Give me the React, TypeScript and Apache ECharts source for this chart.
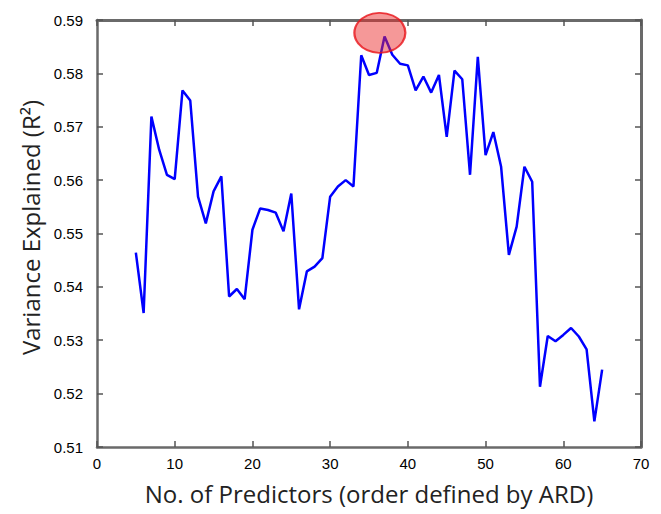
import React, { useEffect, useRef } from "react";
import * as echarts from "echarts";

const predictors = [
  5, 6, 7, 8, 9, 10, 11, 12, 13, 14, 15, 16, 17, 18, 19, 20, 21, 22, 23, 24, 25,
  26, 27, 28, 29, 30, 31, 32, 33, 34, 35, 36, 37, 38, 39, 40, 41, 42, 43, 44, 45,
  46, 47, 48, 49, 50, 51, 52, 53, 54, 55, 56, 57, 58, 59, 60, 61, 62, 63, 64, 65,
];
const variance = [
  0.5464, 0.5351, 0.5719, 0.5657, 0.561, 0.5602, 0.5768, 0.5749, 0.5569, 0.5519,
  0.5579, 0.5607, 0.5382, 0.5396, 0.5377, 0.5507, 0.5547, 0.5544, 0.5539, 0.5504,
  0.5575, 0.5358, 0.5429, 0.5438, 0.5454, 0.5569, 0.5588, 0.56, 0.5588, 0.5834,
  0.5797, 0.5801, 0.5869, 0.5835, 0.5818, 0.5815, 0.5768, 0.5794, 0.5764, 0.5797,
  0.5681, 0.5805, 0.5789, 0.561, 0.5831, 0.5647, 0.569, 0.5625, 0.546, 0.5513,
  0.5625, 0.5597, 0.5213, 0.5308, 0.5298, 0.531, 0.5323, 0.5307, 0.5283, 0.5148,
  0.5245,
];
const highlight = [36.4, 0.5876];

const xTitle = "No. of Predictors (order defined by ARD)";
const yTitle = "Variance Explained (R\u00B2)";

export default function App() {
  const ref = useRef<HTMLDivElement>(null);
  useEffect(() => {
    document.body.style.margin = "0";
    const chart = echarts.init(ref.current!, null, { renderer: "svg" });
    const labelFont = {
      color: "#000",
      fontSize: 15,
      fontFamily: "'Liberation Sans', Arial, sans-serif",
    };
    const titleFont = { fontSize: 24, color: "#222", fontFamily: "'Open Sans', 'Noto Sans', sans-serif" };
    chart.setOption({
      animation: false,
      backgroundColor: "#fff",
      grid: {
        left: 97,
        right: 20,
        top: 20,
        bottom: 67,
        containLabel: false,
      },
      xAxis: [
        {
          type: "value",
          min: 0,
          max: 70,
          interval: 10,
          position: "bottom",
          axisLine: { show: true, onZero: false, lineStyle: { color: "#6a6a6a", width: 2.5 } },
          axisTick: { show: true, inside: true, length: 6, lineStyle: { color: "#555555", width: 1.5 } },
          splitLine: { show: false },
          axisLabel: { ...labelFont, margin: 9 },
          name: xTitle,
          nameLocation: "middle",
          nameGap: 34,
          nameTextStyle: titleFont,
        },
        {
          type: "value",
          min: 0,
          max: 70,
          interval: 10,
          position: "top",
          axisLine: { show: true, onZero: false, lineStyle: { color: "#6a6a6a", width: 3 } },
          axisTick: { show: true, inside: true, length: 6, lineStyle: { color: "#555555", width: 1.5 } },
          splitLine: { show: false },
          axisLabel: { show: false },
        },
      ],
      yAxis: [
        {
          type: "value",
          min: 0.51,
          max: 0.59,
          interval: 0.01,
          position: "left",
          axisLine: { show: true, onZero: false, lineStyle: { color: "#6a6a6a", width: 2.5 } },
          axisTick: { show: true, inside: true, length: 6, lineStyle: { color: "#555555", width: 1.5 } },
          splitLine: { show: false },
          axisLabel: { ...labelFont, margin: 14, formatter: (v: number) => v.toFixed(2) },
          name: yTitle,
          nameLocation: "middle",
          nameRotate: 90,
          nameGap: 53,
          nameTextStyle: { ...titleFont, padding: [0, 0, 0, 12] },
        },
        {
          type: "value",
          min: 0.51,
          max: 0.59,
          interval: 0.01,
          position: "right",
          axisLine: { show: true, onZero: false, lineStyle: { color: "#6a6a6a", width: 3 } },
          axisTick: { show: true, inside: true, length: 6, lineStyle: { color: "#555555", width: 1.5 } },
          splitLine: { show: false },
          axisLabel: { show: false },
        },
      ],
      series: [
        {
          type: "line",
          data: predictors.map((p, i) => [p, variance[i]]),
          showSymbol: false,
          lineStyle: { color: "#0000ff", width: 2.5 },
          z: 2,
        },
        {
          type: "scatter",
          data: [highlight],
          symbol: "circle",
          symbolSize: [51, 40],
          itemStyle: {
            color: "rgba(235,40,40,0.6)",
            borderColor: "#e8141a",
            borderWidth: 2,
          },
          z: 3,
          silent: true,
        },
      ],
    });
    return () => chart.dispose();
  }, []);
  return <div ref={ref} style={{ width: 661, height: 514 }} />;
}
